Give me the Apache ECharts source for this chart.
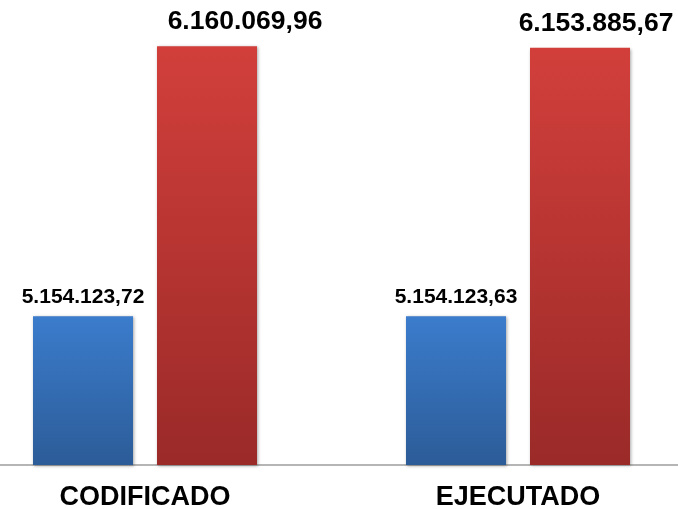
<!DOCTYPE html>
<html>
<head>
<meta charset="utf-8">
<script src="https://cdn.jsdelivr.net/npm/echarts@6/dist/echarts.min.js"></script>
<style>html,body{margin:0;padding:0;background:#fff}#c{width:678px;height:509px}</style>
</head>
<body>
<div id="c"></div>
<script>
const categories = ['CODIFICADO', 'EJECUTADO'];
const seriesA = [5154123.72, 5154123.63];
const seriesB = [6160069.96, 6153885.67];

function fmt(v) {
  const parts = v.toFixed(2).split('.');
  return parts[0].replace(/\B(?=(\d{3})+(?!\d))/g, '.') + ',' + parts[1];
}

const chart = echarts.init(document.getElementById('c'));
const font = 'Liberation Sans, Arial, sans-serif';
const shadow = {shadowBlur: 3, shadowColor: 'rgba(0,0,0,0.35)', shadowOffsetX: 1, shadowOffsetY: 1};
const redOffsets = [[38, 0], [16, 0]];

chart.setOption({
  animation: false,
  grid: {left: -41.5, width: 746, top: 0, bottom: 44, containLabel: false, outerBoundsMode: 'none'},
  xAxis: {
    type: 'category',
    data: categories,
    axisTick: {show: false},
    axisLine: {lineStyle: {color: '#9c9c9c', width: 1.5}},
    axisLabel: {color: '#000', fontWeight: 'bold', fontSize: 27, fontFamily: font, margin: 19}
  },
  yAxis: {
    type: 'value', min: 4600000, max: 6332000,
    show: false, splitLine: {show: false}
  },
  series: [
    {
      type: 'bar', barWidth: 100, barGap: '24%',
      data: seriesA,
      itemStyle: Object.assign({
        color: new echarts.graphic.LinearGradient(0, 0, 0, 1, [
          {offset: 0, color: '#3b7ccc'}, {offset: 1, color: '#2c5c98'}])
      }, shadow),
      label: {show: true, position: 'top', distance: 9, color: '#000', fontWeight: 'bold',
        fontSize: 21, fontFamily: font, formatter: p => fmt(p.value)}
    },
    {
      type: 'bar', barWidth: 100, barGap: '24%',
      data: seriesB.map((v, i) => ({value: v, label: {offset: redOffsets[i]}})),
      itemStyle: Object.assign({
        color: new echarts.graphic.LinearGradient(0, 0, 0, 1, [
          {offset: 0, color: '#d23f3b'}, {offset: 1, color: '#9a2a28'}])
      }, shadow),
      label: {show: true, position: 'top', distance: 11, color: '#000', fontWeight: 'bold',
        fontSize: 26.5, fontFamily: font, formatter: p => fmt(p.value)}
    }
  ]
});
</script>
</body>
</html>
